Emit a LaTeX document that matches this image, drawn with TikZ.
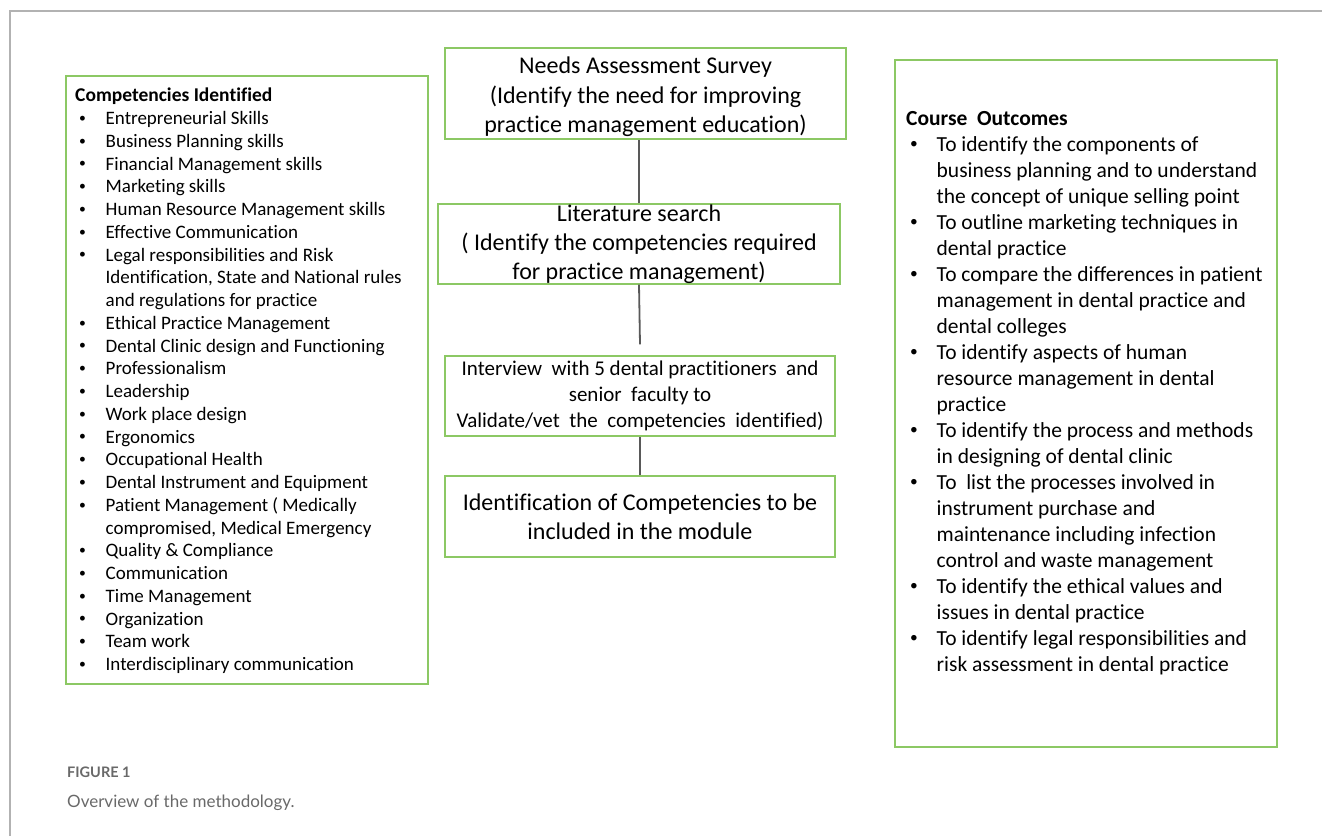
\documentclass[tikz,border=0pt]{standalone}
\usepackage{fontspec}
\setmainfont{Carlito}[Ligatures={NoCommon}]
\newfontfamily\capfont{Lato}
\usepackage{tikz}
\definecolor{boxgreen}{RGB}{140,200,100}
\definecolor{capgray}{RGB}{105,105,105}
\newcommand{\bul}{\hspace*{4pt}\makebox[26.5pt][l]{\raisebox{0.12em}{\scalebox{0.72}{\textbullet}}}}
\newcommand{\ind}{\hspace*{30.5pt}}

\begin{document}
\begin{tikzpicture}[x=1pt,y=-1pt,
		box/.style={draw=boxgreen,line width=1.2pt,inner sep=0pt,align=center},
		link/.style={draw=black!65,line width=1.8pt},
		list/.style={inner sep=0pt,anchor=north west,align=left}]
		\useasboundingbox (0,0) rectangle (1322,836);
		\draw[black!30,line width=1.5pt] (10,836) -- (10,11) -- (1322,11);
		% left and right frames
		\node[box,minimum width=362pt,minimum height=608pt] (compbox) at (247,380) {};
		\node[box,minimum width=382pt,minimum height=687pt] (outbox) at (1086,403.5) {};
		% steps in the middle
		\node[box,minimum width=401pt,minimum height=91pt,font=\fontsize{24}{29.5}\selectfont] (needs) at (645.5,93.5)
			{\rule{0pt}{24pt}Needs Assessment Survey\\(Identify the need for improving\\practice management education)};
		\node[box,minimum width=402pt,minimum height=80pt,font=\fontsize{24}{29}\selectfont] (lit) at (639,244)
			{Literature search\\( Identify the competencies required\\for practice management)};
		\node[box,minimum width=390pt,minimum height=80pt,font=\fontsize{21}{26}\selectfont] (interv) at (640,396)
			{Interview\ \ with 5 dental practitioners\ \ and\\senior\ \ faculty to\\Validate/vet\ \ the\ \ competencies\ \ identified)};
		\node[box,minimum width=390pt,minimum height=81pt,font=\fontsize{24}{29}\selectfont] (ident) at (640,516.5)
			{Identification of Competencies to be\\included in the module};
		\draw[link] (lit.north) -- (lit.north |- needs.south);
		\draw[link] (lit.south) -- ([yshift=11pt]interv.north);
		\draw[link] (ident.north) -- (interv.south);
		% lists
		\node[list,font=\fontsize{19}{22.75}\selectfont] (comps) at (75,88)
			{\textbf{\fontsize{19.5}{22.75}\selectfont Competencies Identified}\\
			\bul Entrepreneurial Skills\\
			\bul Business Planning skills\\
			\bul Financial Management skills\\
			\bul Marketing skills\\
			\bul Human Resource Management skills\\
			\bul Effective Communication\\
			\bul Legal responsibilities and Risk\\
			\ind Identification, State and National rules\\
			\ind and regulations for practice\\
			\bul Ethical Practice Management\\
			\bul Dental Clinic design and Functioning\\
			\bul Professionalism\\
			\bul Leadership\\
			\bul Work place design\\
			\bul Ergonomics\\
			\bul Occupational Health\\
			\bul Dental Instrument and Equipment\\
			\bul Patient Management ( Medically\\
			\ind compromised, Medical Emergency\\
			\bul Quality \& Compliance\\
			\bul Communication\\
			\bul Time Management\\
			\bul Organization\\
			\bul Team work\\
			\bul Interdisciplinary communication};
		\node[list,font=\fontsize{21.5}{26}\selectfont] (outs) at (906,111)
			{\textbf{Course\ \ Outcomes}\\
			\bul To identify the components of\\
			\ind business planning and to understand\\
			\ind the concept of unique selling point\\
			\bul To outline marketing techniques in\\
			\ind dental practice\\
			\bul To compare the differences in patient\\
			\ind management in dental practice and\\
			\ind dental colleges\\
			\bul To identify aspects of human\\
			\ind resource management in dental\\
			\ind practice\\
			\bul To identify the process and methods\\
			\ind in designing of dental clinic\\
			\bul To\ \ list the processes involved in\\
			\ind instrument purchase and\\
			\ind maintenance including infection\\
			\ind control and waste management\\
			\bul To identify the ethical values and\\
			\ind issues in dental practice\\
			\bul To identify legal responsibilities and\\
			\ind risk assessment in dental practice};
		% caption
		\node[anchor=base west,inner sep=0pt,text=capgray,font=\capfont\bfseries\fontsize{14.5}{16}\selectfont] (fignum) at (67,777) {FIGURE 1};
		\node[anchor=base west,inner sep=0pt,text=capgray,font=\capfont\fontsize{17}{21}\selectfont] (figcap) at (67,807) {Overview of the methodology.};
	\end{tikzpicture}
\end{document}
